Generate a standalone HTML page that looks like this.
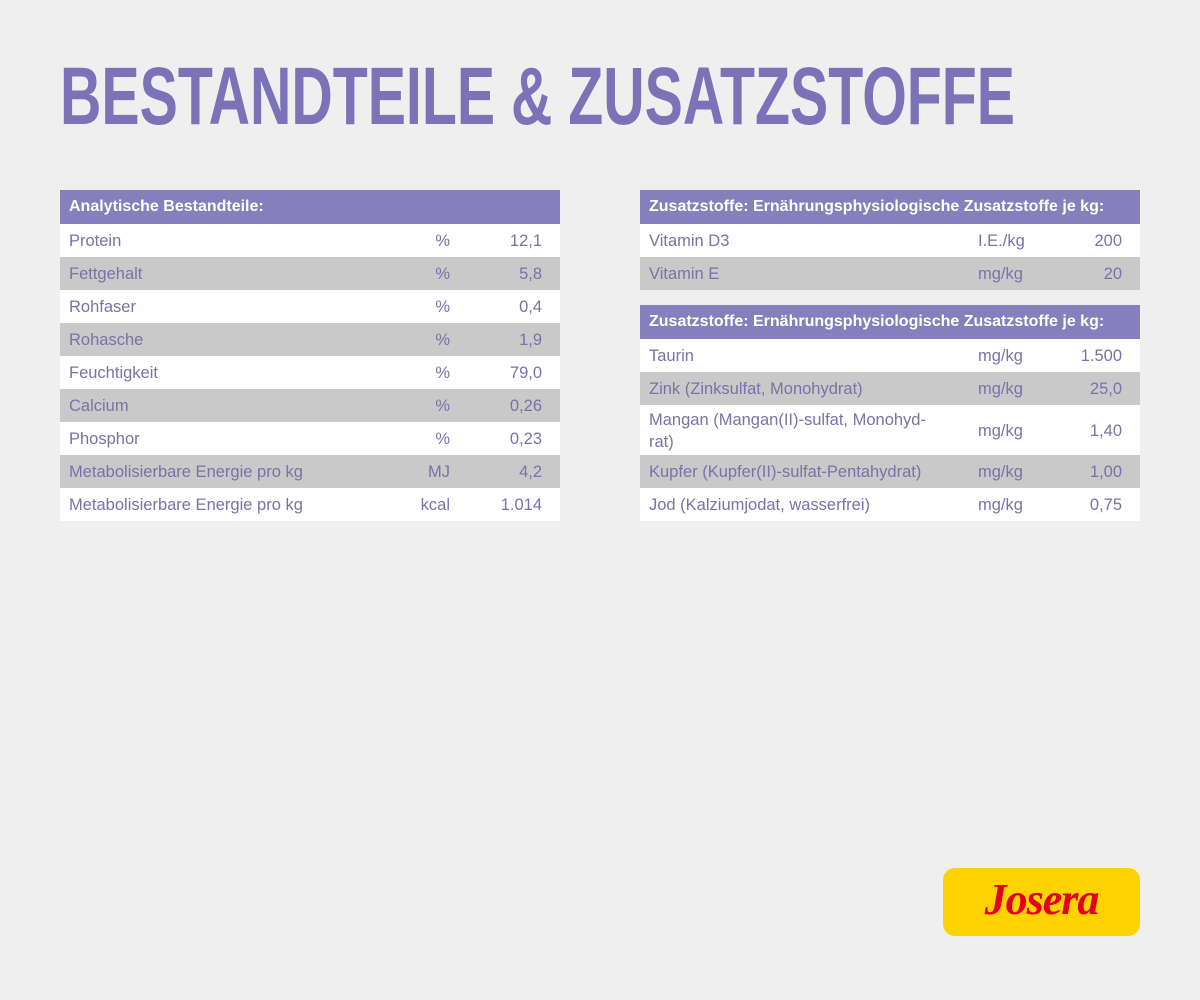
<!DOCTYPE html>
<html><head><meta charset="utf-8"><style>
body{margin:0;width:1200px;height:1000px;background:#efefef;font-family:"Liberation Sans",sans-serif;position:relative;overflow:hidden}
.t{position:absolute;border-collapse:collapse;color:#7a72a8;font-size:16.5px;table-layout:fixed}
.t td{padding:0 0 0 9px;height:33px;white-space:nowrap;padding-top:2px;box-sizing:border-box}
.t tr.h td{background:#8580bb;color:#fff;font-weight:bold;height:34px;font-size:16px;padding-top:0}
.t tr.w td{background:#fff}
.t tr.g td{background:#c9c9c9}
.t td.u{text-align:left}
.t td.ur{text-align:right;padding-left:0}
.t td.v{text-align:right;padding-right:18px}
</style></head><body>
<svg style="position:absolute;left:0;top:0" width="1200" height="160">
<text x="60" y="124" font-family="Liberation Sans" font-weight="bold" font-size="82" fill="#7b72b8" textLength="955" lengthAdjust="spacingAndGlyphs">BESTANDTEILE &amp; ZUSATZSTOFFE</text>
</svg>
<table class="t" style="left:60px;top:190px;width:500px">
<col style="width:340px"><col style="width:50px"><col style="width:110px">
<tr class="h"><td colspan="3">Analytische Bestandteile:</td></tr>
<tr class="w"><td>Protein</td><td class="ur">%</td><td class="v">12,1</td></tr>
<tr class="g"><td>Fettgehalt</td><td class="ur">%</td><td class="v">5,8</td></tr>
<tr class="w"><td>Rohfaser</td><td class="ur">%</td><td class="v">0,4</td></tr>
<tr class="g"><td>Rohasche</td><td class="ur">%</td><td class="v">1,9</td></tr>
<tr class="w"><td>Feuchtigkeit</td><td class="ur">%</td><td class="v">79,0</td></tr>
<tr class="g"><td>Calcium</td><td class="ur">%</td><td class="v">0,26</td></tr>
<tr class="w"><td>Phosphor</td><td class="ur">%</td><td class="v">0,23</td></tr>
<tr class="g"><td>Metabolisierbare Energie pro kg</td><td class="ur">MJ</td><td class="v">4,2</td></tr>
<tr class="w"><td>Metabolisierbare Energie pro kg</td><td class="ur">kcal</td><td class="v">1.014</td></tr>
</table>
<table class="t" style="left:640px;top:190px;width:500px">
<col style="width:329px"><col style="width:90px"><col style="width:81px">
<tr class="h"><td colspan="3">Zusatzstoffe: Ernährungsphysiologische Zusatzstoffe je kg:</td></tr>
<tr class="w"><td>Vitamin D3</td><td class="u">I.E./kg</td><td class="v">200</td></tr>
<tr class="g"><td>Vitamin E</td><td class="u">mg/kg</td><td class="v">20</td></tr>
</table>
<table class="t" style="left:640px;top:305px;width:500px">
<col style="width:329px"><col style="width:90px"><col style="width:81px">
<tr class="h"><td colspan="3">Zusatzstoffe: Ernährungsphysiologische Zusatzstoffe je kg:</td></tr>
<tr class="w"><td>Taurin</td><td class="u">mg/kg</td><td class="v">1.500</td></tr>
<tr class="g"><td>Zink (Zinksulfat, Monohydrat)</td><td class="u">mg/kg</td><td class="v">25,0</td></tr>
<tr class="w"><td style="height:50px;line-height:22px;white-space:normal">Mangan (Mangan(II)-sulfat, Monohyd-<br>rat)</td><td class="u">mg/kg</td><td class="v">1,40</td></tr>
<tr class="g"><td>Kupfer (Kupfer(II)-sulfat-Pentahydrat)</td><td class="u">mg/kg</td><td class="v">1,00</td></tr>
<tr class="w"><td>Jod (Kalziumjodat, wasserfrei)</td><td class="u">mg/kg</td><td class="v">0,75</td></tr>
</table>
<div style="position:absolute;left:943px;top:868px;width:197px;height:68px;background:#fcd200;border-radius:12px;"></div>
<div style="position:absolute;left:943px;top:874px;width:197px;text-align:center;font-family:'Liberation Serif',serif;font-style:italic;font-weight:bold;font-size:44px;color:#e3001b;letter-spacing:-1px">Josera</div>
</body></html>
